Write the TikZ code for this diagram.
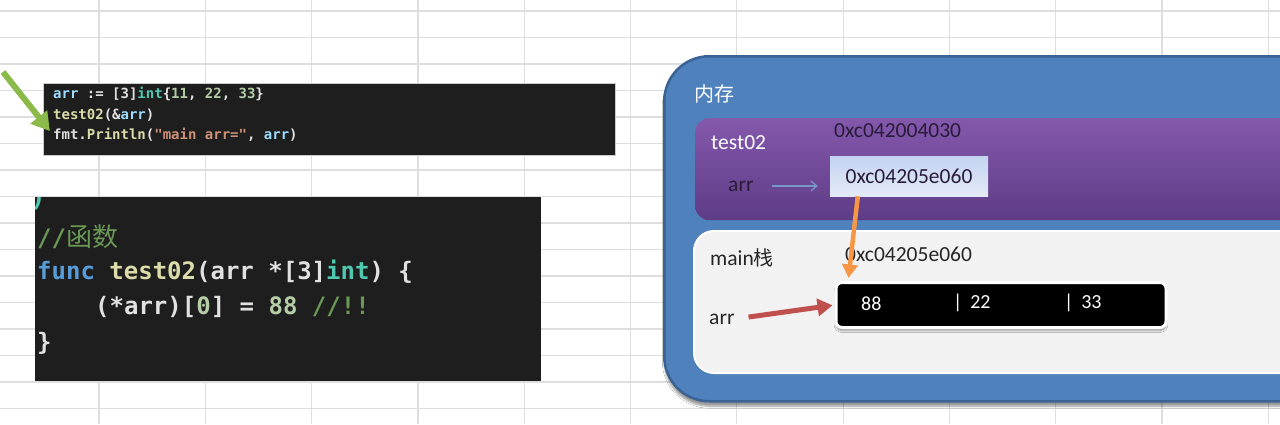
\documentclass[tikz,border=0pt]{standalone}
\usepackage{fontspec}
\setmainfont{Carlito}
\setmonofont{DejaVu Sans Mono}
\newfontfamily\cjk{Noto Sans CJK SC}
\usetikzlibrary{arrows.meta,shadows.blur}
\definecolor{gridline}{RGB}{222,222,222}
\definecolor{codebg}{RGB}{30,30,30}
\definecolor{codeplain}{RGB}{225,225,225}
\definecolor{var}{RGB}{156,220,254}
\definecolor{typ}{RGB}{78,201,176}
\definecolor{num}{RGB}{181,206,168}
\definecolor{fn}{RGB}{220,220,170}
\definecolor{kw}{RGB}{86,156,214}
\definecolor{str}{RGB}{206,145,120}
\definecolor{cmt}{RGB}{106,153,85}
\definecolor{memblue}{RGB}{79,129,189}
\definecolor{memedge}{RGB}{58,98,148}
\definecolor{purtop}{RGB}{132,88,172}
\definecolor{purbot}{RGB}{94,60,134}
\definecolor{addrtop}{RGB}{196,211,240}
\definecolor{addrbot}{RGB}{228,234,247}
\definecolor{darktxt}{RGB}{40,28,58}
\definecolor{arrorange}{RGB}{247,150,70}
\definecolor{arrred}{RGB}{192,80,77}
\definecolor{arrgreen}{RGB}{140,186,74}
\definecolor{arrblue}{RGB}{120,150,200}
\tikzset{
	fatarrow/.style={line width=#1,-{Triangle[length=3*#1,width=3.4*#1]}},
	lbl/.style={anchor=west,inner sep=0pt,font=\fontsize{21.5}{24}\selectfont},
}

\begin{document}
\begin{tikzpicture}[x=1pt,y=-1pt,
		codebox/.style={fill=codebg,inner sep=0pt,anchor=north west},
		codeln/.style={anchor=west,inner sep=0pt,text=codeplain,
			font=\ttfamily\bfseries\fontsize{14}{16}\selectfont},
		codeLn/.style={codeln,font=\ttfamily\bfseries\fontsize{24}{28}\selectfont},
		frame/.style={anchor=north west,inner sep=0pt,minimum width=640pt},
		cell/.style={lbl,text=white,font=\fontsize{20}{23}\selectfont}]
	\clip (0,0) rectangle (1280,424);
	\fill[white] (0,0) rectangle (1280,424);
	% sheet grid
	\foreach \k in {0,...,15}
		\draw[gridline,line width=1.2pt] (0,11+26.5*\k) -- (1280,11+26.5*\k);
	\foreach \k in {0,...,11}
		\draw[gridline,line width=1.2pt] (99+106.3*\k,0) -- (99+106.3*\k,424);

	% calling code
	\node[codebox,draw=gray!40,minimum width=572pt,minimum height=72pt] (code1) at (43,83) {};
	\node[codeln] (arrln) at (53,94) {\textcolor{var}{arr} := [3]\textcolor{typ}{int}\{\textcolor{num}{11}, \textcolor{num}{22}, \textcolor{num}{33}\}};
	\node[codeln] (callln) at (53,115) {\textcolor{fn}{test02}(\&\textcolor{var}{arr})};
	\node[codeln] (fmtln) at (53,135) {fmt.\textcolor{fn}{Println}(\textcolor{str}{"main arr="}, \textcolor{var}{arr})};
	\coordinate (gstart) at (3,72);
	\draw[arrgreen,fatarrow=6pt,shorten >=5pt] (gstart) -- (fmtln.west);

	% function code
	\node[codebox,minimum width=506pt,minimum height=184pt] (code2) at (35,197) {};
	\begin{scope}
		\clip (35,197) rectangle (541,381);
		\node[codeLn,text=typ,font=\ttfamily\bfseries\fontsize{26}{28}\selectfont] (brk) at (30,198) {)};
	\end{scope}
	\node[codeLn,text=cmt] (cmtln) at (37,237) {//{\cjk\mdseries\fontsize{26}{28}\selectfont 函数}};
	\node[codeLn] (funcln) at (37,272) {\textcolor{kw}{func} \textcolor{fn}{test02}(arr *[3]\textcolor{typ}{int}) \{};
	\node[codeLn] (bodyln) at (95,307) {(*arr)[\textcolor{num}{0}] = \textcolor{num}{88} \textcolor{cmt}{//!!}};
	\node[codeLn] (endln) at (37,343) {\}};

	% memory
	\node[draw=memedge,line width=2.5pt,fill=memblue,rounded corners=45pt,
		minimum width=660pt,minimum height=345pt,anchor=north west,inner sep=0pt,
		blur shadow={shadow xshift=0pt,shadow yshift=-5pt,shadow blur steps=6}] (mem) at (663,55) {};
	\node[lbl,text=white,font=\cjk\fontsize{20}{22}\selectfont] (memlbl) at (694,94) {内存};

	\node[frame,rounded corners=14pt,minimum height=102pt,top color=purtop,bottom color=purbot] (testframe) at (695,118) {};
	\node[lbl,text=white] (testlbl) at (711,143) {test02};
	\node[lbl,text=darktxt] (testaddr) at (834,131) {0xc042004030};
	\node[lbl,text=darktxt] (arrT) at (728,186) {arr};
	\node[top color=addrtop,bottom color=addrbot,minimum width=158pt,minimum height=40pt,
		inner sep=0pt,font=\fontsize{21.5}{24}\selectfont,text=darktxt] (addr) at (909,176) {0xc04205e060};
	\draw[arrblue,line width=1.2pt,-{Straight Barb[length=6pt,width=10pt]},shorten <=18pt,shorten >=12pt]
		(arrT.east) -- (arrT.east -| addr.west);

	\node[frame,rounded corners=20pt,minimum height=142pt,fill=black!5,draw=white,line width=2pt] (mainframe) at (693,230) {};
	\node[lbl,text=black!85] (mainlbl) at (710,258) {main{\cjk\fontsize{20}{22}\selectfont 栈}};
	\node[lbl,text=black!85] (mainaddr) at (845,254) {0xc04205e060};
	\node[lbl,text=black!85] (arrM) at (709,319) {arr};
	\node[fill=black,draw=white,line width=3pt,rounded corners=6pt,minimum width=330pt,minimum height=45pt,
		inner sep=0pt,blur shadow={shadow xshift=0pt,shadow yshift=-3pt}] (arrbox) at (1001,305) {};
	\node[cell] (v0) at (861,304) {88};
	\node[cell] (v1) at (953,303) {|\, 22};
	\node[cell] (v2) at (1064,303) {|\, 33};

	\draw[arrorange,fatarrow=4.5pt] ([xshift=28pt]addr.south west) -- ([xshift=14pt,yshift=3pt]arrbox.north west);
	\draw[arrred,fatarrow=5pt,shorten <=14pt,shorten >=2pt] (arrM.east) -- (arrbox.west);
\end{tikzpicture}
\end{document}
